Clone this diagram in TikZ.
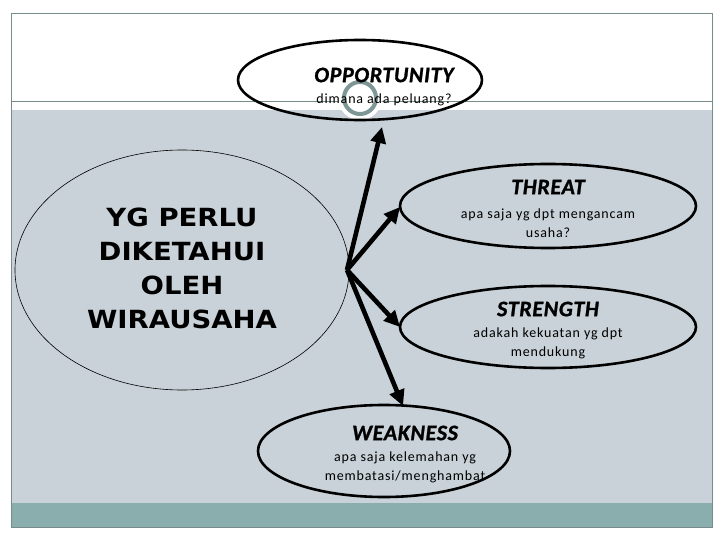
\documentclass[tikz,border=0pt]{standalone}
\usepackage{fontspec}
\setmainfont{Carlito}
\newfontfamily\leftfont{DejaVu Sans}
\newfontfamily\ttlfont{Carlito}[LetterSpace=3,BoldItalicFeatures={FakeBold=1.2}]
\newfontfamily\subfont{Carlito}[LetterSpace=6]
\usetikzlibrary{arrows.meta}
\definecolor{bandgray}{RGB}{200,210,216}
\definecolor{teal2}{RGB}{138,173,173}
\definecolor{framegray}{RGB}{120,140,140}
\definecolor{ringgray}{RGB}{125,150,150}
\newcommand{\wideline}[1]{\scalebox{1.1}[1]{#1}}
\begin{document}
\begin{tikzpicture}[x=1pt,y=-1pt,
  arr/.style={line width=4.6pt,-{Triangle[length=16pt,width=15pt]}},
  ttl/.style={font=\ttlfont\fontsize{22}{24}\selectfont\bfseries\itshape},
  sub/.style={font=\subfont\fontsize{14}{19}\selectfont,align=center}]
\useasboundingbox (0,0) rectangle (720,540);
\fill[white] (0,0) rectangle (720,540);
% slide background
\fill[bandgray] (11,110) rectangle (712,503);
\fill[teal2] (11,503) rectangle (712,527);
\draw[framegray,line width=0.8pt] (11,13) rectangle (712,527);
\draw[framegray,line width=0.8pt] (11,101) -- (712,101);
% ring ornament
\fill[white] (360,98) circle (22);
\draw[ringgray,line width=4pt] (360,98) circle (16);
% left ellipse
\draw[black,line width=0.6pt] (182,270) ellipse (167 and 120);
\node[font=\leftfont\bfseries\fontsize{25}{34}\selectfont,align=center] (left) at (182,268)
  {\wideline{YG PERLU}\\\wideline{DIKETAHUI}\\\wideline{OLEH}\\\wideline{WIRAUSAHA}};
% SWOT ellipses
\draw[line width=2.6pt] (360,80) ellipse (122 and 40);
\draw[line width=2.6pt] (548,206) ellipse (148 and 42);
\draw[line width=2.6pt] (548,327) ellipse (148 and 41);
\draw[line width=2.6pt] (384,451) ellipse (126 and 46);
% anchors
\coordinate (hub) at (347,270);
\coordinate (opp) at (382,127);
\coordinate (thr) at (400,207);
\coordinate (str) at (400,327);
\coordinate (wea) at (403,406);
% texts
\node[ttl] (ot) at (384,75) {OPPORTUNITY};
\node[sub] (os) at (384,100) {dimana ada peluang?};
\node[ttl] (tt) at (548,187) {THREAT};
\node[sub] (ts) at (548,223) {apa saja yg dpt mengancam\\usaha?};
\node[ttl] (st) at (548,309) {STRENGTH};
\node[sub] (ss) at (548,343) {adakah kekuatan yg dpt\\mendukung};
\node[ttl] (wt) at (405,433) {WEAKNESS};
\node[sub] (ws) at (405,467) {apa saja kelemahan yg\\membatasi/menghambat};
% arrows
\draw[arr] (hub) -- (opp);
\draw[arr] (hub) -- (thr);
\draw[arr] (hub) -- (str);
\draw[arr] (hub) -- (wea);
\end{tikzpicture}
\end{document}
